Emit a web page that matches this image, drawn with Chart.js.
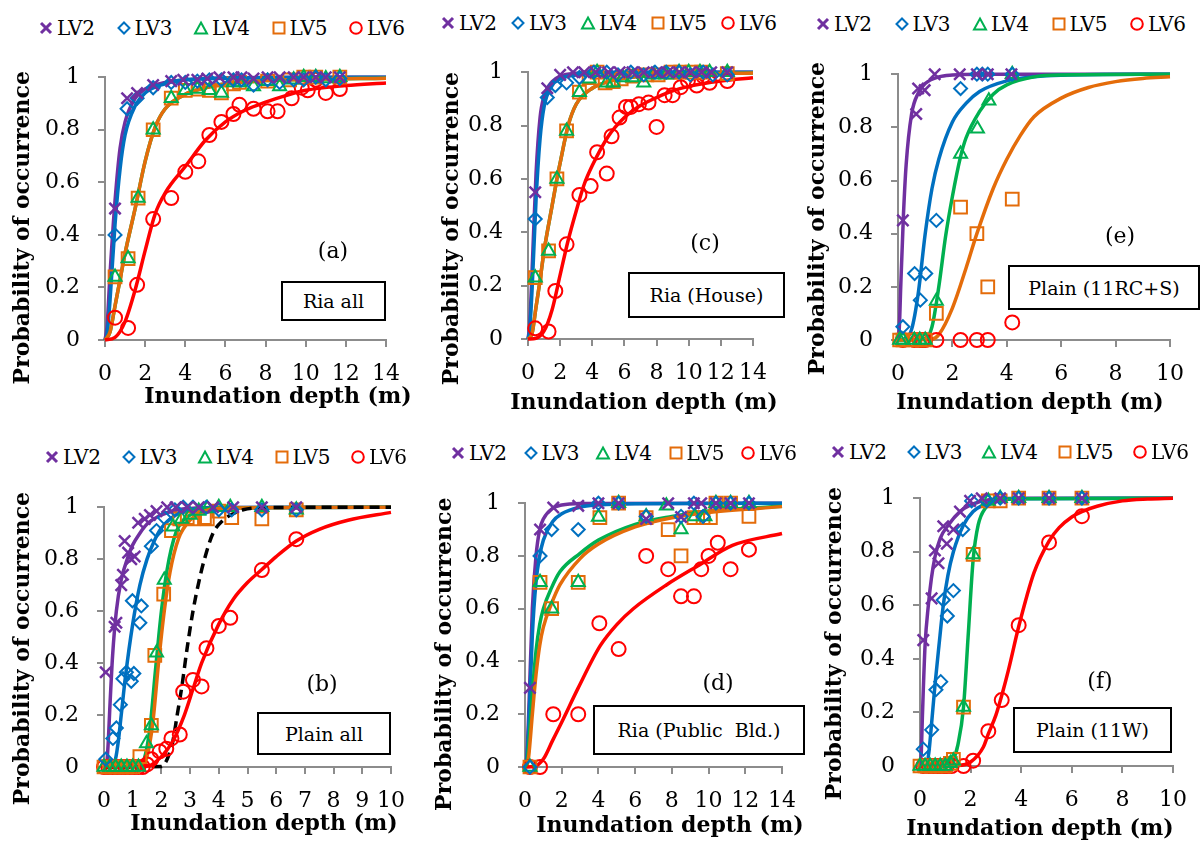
<!DOCTYPE html>
<html>
<head>
<meta charset="utf-8">
<script src="https://cdn.jsdelivr.net/npm/chart.js@4.4.0/dist/chart.umd.min.js"></script>
<style>
  body { margin: 0; background: #fff; width: 1204px; height: 844px; position: relative; overflow: hidden;
         font-family: "DejaVu Serif", serif; }
  canvas { position: absolute; }
  .item { position: absolute; font-size: 20px; line-height: 24px; white-space: nowrap; transform: translateY(-50%); }
  .item svg { vertical-align: -1px; margin-right: 3px; }
  .tag { position: absolute; font-size: 22px; transform: translate(-50%, -50%); }
  .box { position: absolute; border: 2px solid #000; box-sizing: border-box; display: flex; align-items: center;
         justify-content: center; font-size: 19px; white-space: pre; background: #fff; }
</style>
</head>
<body>
<script>
// ---- (a) Ria all ----
const aLV2 = [[0.5,0.50],[1.1,0.92],[1.6,0.94],[2.4,0.97],[3.3,0.985],[3.9,0.99],[4.6,0.99],[5.1,0.995],[5.7,1.0],[6.4,1.0],[6.8,1.0],[7.4,0.995],[8.1,1.0],[8.7,1.0],[9.4,1.0],[9.9,1.0],[10.5,1.0],[11.0,1.0],[11.7,1.0]];
const aLV3 = [[0.5,0.40],[1.1,0.88],[1.6,0.92],[2.4,0.96],[3.3,0.98],[4.0,0.98],[4.6,0.985],[5.2,0.99],[5.8,0.99],[6.4,0.99],[6.8,0.99],[7.4,0.97],[8.1,0.99],[8.7,0.98],[9.4,0.99],[9.9,0.99],[10.5,1.0],[11.0,0.99],[11.7,0.995]];
const aLV4 = [[0.5,0.24],[1.15,0.31],[1.65,0.54],[2.4,0.80],[3.3,0.92],[4.0,0.95],[4.6,0.955],[5.2,0.95],[5.8,0.94],[6.4,0.98],[6.7,0.98],[7.4,0.965],[8.1,0.985],[8.7,0.965],[9.4,0.99],[9.9,1.0],[10.5,1.0],[11.0,0.995],[11.7,1.0]];
const aLV5 = [[0.5,0.24],[1.15,0.31],[1.65,0.54],[2.4,0.80],[3.3,0.92],[4.0,0.95],[4.65,0.955],[5.2,0.95],[5.8,0.94],[6.4,0.975],[6.7,0.98],[8.1,0.985],[9.2,0.99],[9.9,1.0],[10.5,1.0],[11.7,1.0]];
const aLV6 = [[0.5,0.085],[1.15,0.046],[1.6,0.21],[2.4,0.46],[3.3,0.54],[4.0,0.64],[4.65,0.68],[5.2,0.78],[5.8,0.83],[6.4,0.86],[6.7,0.895],[7.4,0.88],[8.1,0.87],[8.6,0.87],[9.3,0.92],[9.8,0.96],[10.1,0.95],[10.5,0.99],[11.0,0.94],[11.7,0.955]];
const aFit2 = [[0,0],[0.1,0.05],[0.25,0.25],[0.5,0.53],[0.75,0.73],[1,0.83],[1.5,0.92],[2,0.955],[3,0.98],[4,0.99],[6,0.997],[10,1],[14,1]];
const aFit3 = [[0,0],[0.1,0.02],[0.25,0.15],[0.5,0.44],[0.75,0.65],[1,0.78],[1.5,0.89],[2,0.94],[3,0.975],[4,0.99],[6,0.996],[10,0.999],[14,1]];
const aFit45 = [[0,0],[0.25,0.03],[0.5,0.13],[0.75,0.23],[1,0.33],[1.5,0.5],[2,0.68],[2.5,0.81],[3,0.88],[4,0.935],[5,0.96],[6,0.975],[8,0.987],[10,0.992],[14,0.996]];
const aFit6 = [[0,0],[0.5,0.01],[1,0.07],[1.5,0.19],[2,0.34],[2.5,0.48],[3,0.56],[4,0.66],[5,0.76],[6,0.83],[7,0.875],[8,0.905],[9,0.93],[10,0.95],[12,0.968],[14,0.978]];

// ---- (c) Ria (House) ----
const cLV2 = [[0.45,0.55],[1.2,0.94],[2.0,0.99],[2.8,1.0],[3.5,1.0],[4.2,1.0],[5.0,1.0],[5.7,1.0],[6.5,1.0],[7.2,1.0],[8.0,1.0],[8.7,1.0],[9.4,1.0],[10.1,1.0],[10.8,1.0],[11.4,1.0],[12.4,1.0]];
const cLV3 = [[0.45,0.45],[1.2,0.905],[1.7,0.95],[2.4,0.96],[3.2,0.98],[4.1,1.0],[4.9,1.0],[5.6,0.99],[6.4,1.0],[7.2,0.99],[7.9,1.0],[8.6,1.0],[9.4,1.0],[10.1,0.99],[10.9,1.0],[11.5,0.99],[12.4,0.99]];
const cLV4 = [[0.45,0.23],[1.28,0.33],[1.8,0.60],[2.4,0.78],[3.2,0.925],[3.8,0.975],[4.3,1.0],[4.9,0.96],[5.3,0.96],[5.9,0.98],[6.5,0.98],[7.2,0.96],[7.8,0.99],[8.6,0.99],[9.4,1.0],[10.0,1.0],[10.7,1.0],[11.3,1.0],[12.4,1.0]];
const cLV5 = [[0.45,0.23],[1.28,0.33],[1.8,0.60],[2.4,0.78],[3.2,0.925],[3.8,0.98],[4.3,1.0],[4.8,0.96],[5.3,0.965],[5.8,0.975],[6.5,0.985],[7.4,0.99],[8.1,0.99],[8.9,1.0],[9.5,1.0],[10.2,1.0],[10.8,1.0],[12.4,0.995]];
const cLV6 = [[0.45,0.04],[1.28,0.028],[1.7,0.18],[2.4,0.355],[3.2,0.54],[3.9,0.573],[4.3,0.70],[4.9,0.62],[5.2,0.76],[5.7,0.83],[6.1,0.87],[6.4,0.87],[6.9,0.88],[7.5,0.886],[8.0,0.795],[8.5,0.914],[9.0,0.914],[9.5,0.944],[9.95,0.968],[10.5,0.95],[10.9,0.985],[11.3,0.96],[12.4,0.967]];
const cFit2 = [[0,0],[0.1,0.05],[0.25,0.25],[0.5,0.62],[0.75,0.83],[1,0.91],[1.5,0.965],[2,0.985],[3,0.996],[5,1],[14,1]];
const cFit3 = [[0,0],[0.1,0.03],[0.25,0.18],[0.5,0.52],[0.75,0.75],[1,0.87],[1.5,0.95],[2,0.975],[3,0.99],[5,0.998],[14,1]];
const cFit45 = [[0,0],[0.25,0.02],[0.5,0.12],[0.75,0.22],[1,0.33],[1.5,0.5],[1.8,0.6],[2,0.66],[2.5,0.8],[3,0.88],[4,0.94],[5,0.965],[6,0.978],[8,0.988],[10,0.993],[14,0.997]];
const cFit6 = [[0,0],[0.5,0.003],[1,0.03],[1.5,0.11],[2,0.24],[2.5,0.37],[3,0.48],[3.5,0.58],[4,0.65],[5,0.76],[6,0.83],[7,0.875],[8,0.905],[9,0.93],[10,0.947],[12,0.967],[14,0.979]];

// ---- (e) Plain (11RC+S) ----
const eLV2 = [[0.18,0.45],[0.67,0.85],[0.74,0.946],[0.98,0.94],[1.35,1.0],[2.27,1.0],[2.9,1.0],[3.3,1.0],[4.17,1.0]];
const eLV3 = [[0.18,0.05],[0.61,0.25],[0.82,0.15],[1.02,0.25],[1.41,0.45],[2.3,0.946],[2.9,1.0],[3.1,1.0],[3.3,1.0],[4.2,1.0]];
const eLV4 = [[0.06,0],[0.18,0],[0.6,0],[0.8,0],[1.0,0],[1.41,0.147],[2.3,0.70],[2.92,0.795],[3.34,0.90],[4.2,1.0]];
const eLV5 = [[0.06,0],[0.18,0],[0.6,0],[0.8,0],[1.0,0],[1.41,0.10],[2.3,0.50],[2.9,0.40],[3.3,0.20],[4.2,0.53]];
const eLV6 = [[0.18,0],[0.6,0],[0.8,0],[0.9,0],[1.0,0],[1.41,0],[2.3,0],[2.9,0],[3.3,0],[4.2,0.066]];
const eFit2 = [[0,0],[0.05,0.05],[0.1,0.2],[0.2,0.47],[0.3,0.66],[0.5,0.85],[0.75,0.93],[1,0.965],[1.5,0.99],[2,0.997],[3,1],[10,1]];
const eFit3 = [[0,0],[0.25,0.005],[0.5,0.04],[0.75,0.18],[1,0.4],[1.25,0.57],[1.5,0.68],[2,0.82],[2.5,0.89],[3,0.935],[4,0.975],[5,0.99],[6,0.996],[10,1]];
const eFit4 = [[0,0],[1,0.005],[1.25,0.05],[1.5,0.2],[1.75,0.39],[2,0.54],[2.3,0.69],[2.5,0.76],[3,0.86],[3.5,0.925],[4,0.96],[5,0.99],[6,0.997],[10,1]];
const eFit5 = [[0,0],[1.25,0.003],[1.5,0.02],[2,0.12],[2.5,0.27],[2.9,0.4],[3.5,0.57],[4,0.68],[4.5,0.77],[5,0.84],[6,0.91],[7,0.95],[8,0.972],[9,0.984],[10,0.99]];

// ---- (b) Plain all ----
const bLV2 = [[0.06,0.365],[0.37,0.54],[0.43,0.555],[0.6,0.70],[0.66,0.74],[0.72,0.87],[0.84,0.825],[0.95,0.80],[1.07,0.81],[1.19,0.94],[1.42,0.955],[1.6,0.97],[1.83,0.985],[2.2,1.0],[2.5,1.0],[2.9,1.0],[3.3,1.0],[3.8,1.0],[4.5,1.0],[5.5,1.0],[6.7,1.0]];
const bLV3 = [[0.06,0.03],[0.31,0.11],[0.43,0.15],[0.57,0.24],[0.66,0.34],[0.78,0.365],[0.95,0.33],[1.04,0.36],[0.99,0.64],[1.25,0.555],[1.3,0.62],[1.65,0.85],[1.83,0.91],[2.1,0.96],[2.47,0.99],[2.76,1.0],[3.1,1.0],[3.57,1.0],[4.0,0.99],[4.45,0.99],[5.5,0.99],[6.7,0.99]];
const bLV4 = [[0.0,0],[0.2,0],[0.4,0],[0.6,0],[0.8,0],[1.0,0],[1.2,0],[1.48,0.09],[1.65,0.16],[1.83,0.44],[2.1,0.72],[2.4,0.925],[2.7,0.955],[3.0,0.97],[3.3,0.985],[3.6,0.995],[4.0,1.0],[4.4,1.0],[5.5,1.0],[6.7,0.99]];
const bLV5 = [[0.0,0],[0.2,0],[0.4,0],[0.6,0],[0.8,0],[1.0,0],[1.25,0.04],[1.65,0.16],[1.77,0.43],[2.08,0.665],[2.35,0.91],[2.64,0.955],[2.9,0.96],[3.1,0.955],[3.5,0.96],[3.6,0.955],[4.0,0.985],[4.45,0.96],[5.5,0.955],[6.7,0.99]];
const bLV6 = [[0.0,0],[0.15,0],[0.3,0],[0.45,0],[0.6,0],[0.75,0],[0.9,0],[1.05,0],[1.2,0],[1.35,0],[1.5,0.01],[1.65,0.03],[1.94,0.06],[2.17,0.07],[2.35,0.11],[2.64,0.125],[2.76,0.29],[3.1,0.335],[3.4,0.31],[3.57,0.457],[4.0,0.543],[4.4,0.574],[5.5,0.758],[6.7,0.877]];
const bFit2 = [[0,0],[0.1,0.02],[0.15,0.1],[0.2,0.22],[0.3,0.43],[0.43,0.6],[0.6,0.72],[0.84,0.81],[1,0.855],[1.25,0.9],[1.5,0.935],[1.9,0.965],[2.5,0.988],[3,0.995],[4,0.999],[10,1]];
const bFit3 = [[0,0],[0.3,0.005],[0.4,0.03],[0.5,0.1],[0.6,0.2],[0.75,0.35],[1,0.55],[1.25,0.7],[1.5,0.8],[1.75,0.87],[2,0.92],[2.5,0.97],[3,0.99],[4,0.998],[10,1]];
const bFit4 = [[0,0],[1.2,0.002],[1.4,0.03],[1.6,0.15],[1.8,0.38],[2,0.6],[2.2,0.76],[2.5,0.9],[3,0.97],[3.5,0.992],[4,0.998],[10,1]];
const bFit5 = [[0,0],[1.3,0.002],[1.5,0.04],[1.7,0.17],[1.9,0.4],[2.1,0.6],[2.3,0.75],[2.6,0.88],[3,0.95],[3.5,0.985],[4,0.996],[10,1]];
const bFit6 = [[0,0],[1.5,0.003],[2,0.04],[2.4,0.1],[2.8,0.2],[3.1,0.3],[3.4,0.4],[4,0.55],[4.5,0.645],[5,0.71],[5.5,0.76],[6,0.81],[6.7,0.87],[7.5,0.915],[8.5,0.95],[10,0.98]];
const bFitAll = [[0,0],[2.0,0.002],[2.2,0.03],[2.4,0.1],[2.55,0.2],[2.7,0.3],[2.9,0.46],[3.1,0.6],[3.3,0.71],[3.5,0.8],[3.8,0.9],[4.15,0.95],[4.5,0.975],[4.85,0.99],[5.5,0.998],[10,1]];

// ---- (d) Ria (Public Bld.) ----
const dLV2 = [[0.27,0.30],[0.82,0.90],[1.54,0.984],[2.9,0.99],[4.0,1.0],[5.1,1.0],[6.6,0.94],[7.8,1.0],[8.5,0.948],[9.2,1.0],[9.6,1.0],[10.4,1.0],[11.2,1.0],[12.2,1.0]];
const dLV3 = [[0.27,0],[0.82,0.80],[1.45,0.90],[2.9,0.90],[4.0,1.0],[5.1,1.0],[6.6,0.95],[8.5,0.95],[9.2,1.0],[9.7,0.95],[10.4,1.0],[11.2,1.0],[12.2,1.0]];
const dLV4 = [[0.27,0],[0.82,0.70],[1.45,0.60],[2.9,0.70],[4.0,0.948],[5.1,1.0],[6.6,0.95],[7.7,0.99],[8.5,0.90],[9.25,0.95],[9.8,0.95],[10.4,1.0],[11.2,1.0],[12.2,1.0]];
const dLV5 = [[0.27,0],[0.82,0.70],[1.45,0.60],[2.9,0.70],[4.08,0.945],[5.1,1.0],[6.6,0.945],[7.8,0.90],[8.5,0.80],[9.2,0.945],[9.7,0.945],[10.1,0.945],[10.4,1.0],[11.2,1.0],[12.2,0.95]];
const dLV6 = [[0.27,0],[0.82,0],[1.54,0.20],[2.9,0.20],[4.05,0.545],[5.1,0.447],[6.6,0.80],[7.8,0.75],[8.5,0.647],[9.2,0.647],[9.6,0.75],[10.0,0.80],[10.5,0.85],[11.2,0.75],[12.2,0.824]];
const dFit2 = [[0,0],[0.1,0.04],[0.2,0.2],[0.4,0.6],[0.6,0.8],[0.8,0.9],[1,0.94],[1.5,0.98],[2,0.993],[3,0.999],[14,1]];
const dFit3 = [[0,0],[0.1,0.03],[0.2,0.15],[0.4,0.5],[0.6,0.7],[0.8,0.8],[1,0.86],[1.5,0.93],[2,0.96],[3,0.985],[4,0.993],[6,0.998],[14,1]];
const dFit4 = [[0,0],[0.1,0.01],[0.2,0.08],[0.4,0.28],[0.6,0.44],[0.8,0.54],[1,0.6],[1.45,0.68],[1.9,0.74],[3,0.81],[4,0.86],[6,0.92],[8,0.95],[10,0.97],[14,0.988]];
const dFit5 = [[0,0],[0.1,0.005],[0.2,0.04],[0.4,0.2],[0.6,0.35],[0.8,0.46],[1,0.53],[1.45,0.62],[1.9,0.69],[3,0.79],[4,0.845],[6,0.91],[8,0.945],[10,0.965],[14,0.987]];
const dFit6 = [[0,0],[0.5,0.002],[1,0.03],[1.5,0.1],[2,0.17],[2.9,0.3],[4.1,0.46],[5,0.54],[5.9,0.6],[7.7,0.69],[9.5,0.766],[11.3,0.84],[14,0.885]];

// ---- (f) Plain (11W) ----
const fLV2 = [[0.13,0.47],[0.46,0.626],[0.59,0.805],[0.73,0.757],[0.92,0.895],[1.06,0.83],[1.32,0.883],[1.58,0.95],[1.98,0.99],[2.44,1.0],[3.17,1.0],[3.9,1.0],[5.1,1.0],[6.4,1.0]];
const fLV3 = [[0.13,0.063],[0.46,0.135],[0.63,0.285],[0.82,0.315],[0.92,0.62],[1.08,0.56],[1.32,0.655],[1.69,0.883],[2.04,0.99],[2.64,0.99],[3.17,1.0],[3.9,1.0],[5.1,1.0],[6.4,1.0]];
const fLV4 = [[0.0,0],[0.2,0],[0.4,0],[0.6,0],[0.8,0],[1.0,0],[1.2,0.01],[1.32,0.02],[1.72,0.22],[2.1,0.79],[2.7,0.99],[3.17,1.0],[3.9,1.0],[5.1,1.0],[6.4,1.0]];
const fLV5 = [[0.0,0],[0.2,0],[0.4,0],[0.6,0],[0.8,0],[1.0,0],[1.2,0.01],[1.32,0.025],[1.72,0.22],[2.1,0.79],[2.7,0.99],[3.17,0.99],[3.9,1.0],[5.1,1.0],[6.4,1.0]];
const fLV6 = [[0.13,0],[0.35,0],[0.53,0],[0.7,0],[0.79,0],[0.95,0],[1.06,0],[1.25,0],[1.72,0],[2.1,0.02],[2.7,0.13],[3.23,0.246],[3.9,0.526],[5.1,0.835],[6.4,0.933]];
const fFit2 = [[0,0],[0.05,0.05],[0.1,0.2],[0.2,0.45],[0.33,0.6],[0.45,0.7],[0.59,0.78],[0.8,0.85],[1.12,0.9],[1.58,0.95],[2,0.975],[2.5,0.99],[3,0.997],[4,1],[10,1]];
const fFit3 = [[0,0],[0.25,0.002],[0.35,0.05],[0.45,0.15],[0.59,0.3],[0.75,0.45],[0.92,0.6],[1.1,0.71],[1.32,0.8],[1.72,0.9],[2.1,0.95],[2.5,0.975],[3,0.99],[4,0.998],[10,1]];
const fFit4 = [[0,0],[1.1,0.002],[1.3,0.02],[1.5,0.08],[1.72,0.22],[1.9,0.48],[2.1,0.77],[2.3,0.9],[2.6,0.965],[3,0.99],[3.5,0.998],[10,1]];
const fFit6 = [[0,0],[1.5,0.002],[2,0.015],[2.5,0.07],[2.7,0.12],[3,0.19],[3.25,0.27],[3.5,0.36],[3.9,0.52],[4.5,0.72],[5.1,0.84],[5.5,0.89],[6,0.93],[6.4,0.95],[7,0.97],[8,0.99],[9,0.997],[10,1]];

const levels = ['LV2', 'LV3', 'LV4', 'LV5', 'LV6'];
const yTickLabels = ['0', '0.2', '0.4', '0.6', '0.8', '1'];
const YTITLE = 'Probability of occurrence';
const XTITLE = 'Inundation depth (m)';

const COLORS = { LV2: '#7030A0', LV3: '#0070C0', LV4: '#00B050', LV5: '#E46C0A', LV6: '#FF0000', ALL: '#000' };
const MARK = {
  LV2: { style: 'crossRot', r: 8 }, LV3: { style: 'rectRot', r: 6.5 }, LV4: { style: 'triangle', r: 7.5 },
  LV5: { style: 'rect', r: 9 }, LV6: { style: 'circle', r: 7 }
};
// small legend markers
const SVG_MARK = {
  LV2: '<line x1="3" y1="3" x2="13" y2="13"/><line x1="13" y1="3" x2="3" y2="13"/>',
  LV3: '<polygon points="8,2.5 13.5,8 8,13.5 2.5,8"/>',
  LV4: '<polygon points="8,2.5 14,13.5 2,13.5"/>',
  LV5: '<rect x="2.5" y="2.5" width="11" height="11"/>',
  LV6: '<circle cx="8" cy="8" r="5.8"/>'
};

// layout: area = [left, top, right, bottom] of the plot, in page pixels
const panels = [
  { tag: '(a)', note: 'Ria all', pts: [aLV2, aLV3, aLV4, aLV5, aLV6],
    fits: [['LV6', aFit6], ['LV5', aFit45], ['LV4', aFit45], ['LV3', aFit3], ['LV2', aFit2]],
    xMax: 14, xStep: 2, area: [105, 66, 386, 340], yTitleX: 23, xTitle: [278, 397], yPad: 5,
    legend: [46, 77.5, 28], tagAt: [333, 250], boxAt: [281, 281, 386, 321] },
  { tag: '(c)', note: 'Ria (House)', pts: [cLV2, cLV3, cLV4, cLV5, cLV6],
    fits: [['LV6', cFit6], ['LV5', cFit45], ['LV4', cFit45], ['LV3', cFit3], ['LV2', cFit2]],
    xMax: 14, xStep: 2, area: [528, 61, 753, 339], yTitleX: 452, xTitle: [644, 403], yPad: 6,
    legend: [448, 70, 23], tagAt: [705, 242], boxAt: [628, 272, 785, 318] },
  { tag: '(e)', note: 'Plain (11RC+S)', pts: [eLV2, eLV3, eLV4, eLV5, eLV6],
    fits: [['LV5', eFit5], ['LV4', eFit4], ['LV3', eFit3], ['LV2', eFit2]],
    xMax: 10, xStep: 2, area: [898, 63, 1170, 340], yTitleX: 818, xTitle: [1030, 403], yPad: 3,
    legend: [823, 78.5, 24], tagAt: [1120, 235], boxAt: [1008, 265, 1200, 310] },
  { tag: '(b)', note: 'Plain all', pts: [bLV2, bLV3, bLV4, bLV5, bLV6],
    fits: [['LV6', bFit6], ['ALL', bFitAll], ['LV5', bFit5], ['LV4', bFit4], ['LV3', bFit3], ['LV2', bFit2]],
    xMax: 10, xStep: 1, area: [104, 496, 391, 767], yTitleX: 23, xTitle: [264, 824], yPad: 3,
    legend: [52, 76.5, 457], tagAt: [322, 683], boxAt: [257, 712, 391, 755] },
  { tag: '(d)', note: 'Ria (Public  Bld.)', pts: [dLV2, dLV3, dLV4, dLV5, dLV6],
    fits: [['LV6', dFit6], ['LV5', dFit5], ['LV4', dFit4], ['LV3', dFit3], ['LV2', dFit2]],
    xMax: 14, xStep: 2, area: [525, 492, 782, 767], yTitleX: 445, xTitle: [670, 826], yPad: 5,
    legend: [458, 72.5, 453], tagAt: [718, 682], boxAt: [593, 705, 805, 755] },
  { tag: '(f)', note: 'Plain (11W)', pts: [fLV2, fLV3, fLV4, fLV5, fLV6],
    fits: [['LV6', fFit6], ['LV4', fFit4], ['LV3', fFit3], ['LV2', fFit2]],
    xMax: 10, xStep: 2, area: [920, 487, 1173, 766], yTitleX: 835, xTitle: [1040, 829], yPad: 3,
    legend: [838, 75.5, 452], tagAt: [1100, 680], boxAt: [1013, 707, 1172, 753] }
];

const toXY = arr => arr.map(([x, y]) => ({ x, y }));
const axisGrey = '#8c8c8c';
const tickFont = { family: 'DejaVu Serif', size: 22 };
const titleFont = { family: 'DejaVu Serif', size: 22, weight: 'bold' };

// x-axis title drawn without the scale-width squeeze Chart.js applies to its own titles
const xTitlePlugin = {
  id: 'xTitle',
  afterDraw(chart, args, opts) {
    const { ctx } = chart;
    ctx.save();
    ctx.font = 'bold 22px "DejaVu Serif"';
    ctx.fillStyle = '#000';
    ctx.textAlign = 'center';
    ctx.textBaseline = 'middle';
    ctx.fillText(opts.text, opts.x, opts.y);
    ctx.restore();
  }
};

function addDiv(cls, html, style) {
  const d = document.createElement('div');
  d.className = cls;
  d.innerHTML = html;
  Object.assign(d.style, style);
  document.body.appendChild(d);
  return d;
}

panels.forEach(p => {
  const [L, T, R, B] = p.area;
  const padR = 34;
  const cl = p.yTitleX - 13, ct = T - 20;
  const xh = p.xTitle[1] + 16 - B;
  const cw = R + padR - cl, ch = (B - T) + 20 + xh;

  const cv = document.createElement('canvas');
  cv.width = cw; cv.height = ch;
  cv.style.left = cl + 'px'; cv.style.top = ct + 'px';
  document.body.appendChild(cv);

  const datasets = [];
  p.pts.forEach((pts, i) => {
    const lv = levels[i];
    datasets.push({
      label: lv, data: toXY(pts), showLine: false,
      pointStyle: MARK[lv].style, pointRadius: MARK[lv].r,
      pointBorderColor: COLORS[lv], pointBackgroundColor: 'rgba(0,0,0,0)',
      pointBorderWidth: lv === 'LV2' ? 2.5 : 2, clip: false, order: 1
    });
  });
  p.fits.forEach(([lv, pts]) => {
    datasets.push({
      label: 'fit ' + lv, data: toXY(pts), showLine: true,
      borderColor: COLORS[lv], borderWidth: 3.5, borderDash: lv === 'ALL' ? [10, 6] : [],
      pointRadius: 0, cubicInterpolationMode: 'monotone', clip: false, order: 2
    });
  });

  new Chart(cv, {
    type: 'scatter',
    data: { datasets },
    plugins: [xTitlePlugin],
    options: {
      responsive: false,
      animation: false,
      layout: { autoPadding: false, padding: { top: 20, right: padR, left: 0, bottom: 0 } },
      plugins: {
        legend: { display: false },
        tooltip: { enabled: false },
        xTitle: { text: XTITLE, x: p.xTitle[0] - cl, y: p.xTitle[1] - ct }
      },
      scales: {
        x: {
          type: 'linear', min: 0, max: p.xMax,
          afterFit: s => { s.height = xh; },
          ticks: { stepSize: p.xStep, autoSkip: false, maxRotation: 0, padding: 14, color: '#000', font: tickFont },
          grid: { drawOnChartArea: false, tickLength: 7, color: axisGrey, lineWidth: 2 },
          border: { color: axisGrey, width: 2 }
        },
        y: {
          type: 'linear', min: 0, max: 1,
          afterFit: s => { s.width = L - cl; },
          ticks: { stepSize: 0.2, padding: 18, color: '#000', font: tickFont,
                   callback: (v, i) => yTickLabels[i] },
          grid: { drawOnChartArea: false, tickLength: 7, color: axisGrey, lineWidth: 2 },
          border: { color: axisGrey, width: 2 },
          title: { display: true, text: YTITLE + ' '.repeat(p.yPad), color: '#000', font: titleFont, padding: 0 }
        }
      }
    }
  });

  // legend row
  const [lx, step, ly] = p.legend;
  levels.forEach((lv, i) => {
    const sw = lv === 'LV2' ? 3 : 2;
    const svg = '<svg width="16" height="16" viewBox="0 0 16 16" fill="none" stroke="' + COLORS[lv] +
      '" stroke-width="' + sw + '">' + SVG_MARK[lv] + '</svg>';
    addDiv('item', svg + lv, { left: (lx + i * step - 8) + 'px', top: ly + 'px' });
  });

  addDiv('tag', p.tag, { left: p.tagAt[0] + 'px', top: p.tagAt[1] + 'px' });
  const [bx0, by0, bx1, by1] = p.boxAt;
  addDiv('box', p.note, { left: bx0 + 'px', top: by0 + 'px', width: (bx1 - bx0) + 'px', height: (by1 - by0) + 'px' });
});
</script>
</body>
</html>
